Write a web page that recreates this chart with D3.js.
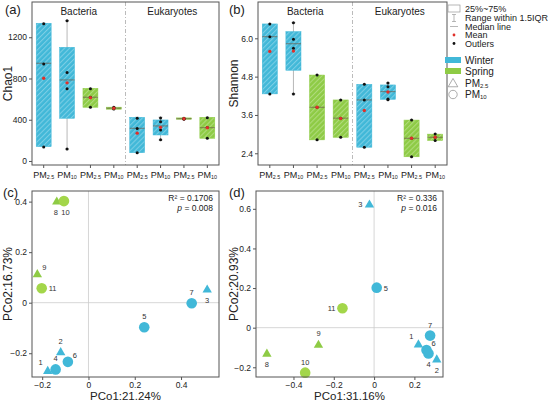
<!DOCTYPE html>
<html>
<head>
<meta charset="utf-8">
<script src="https://cdn.jsdelivr.net/npm/d3@7"></script>
<style>
  body { margin: 0; background: #fff; }
  svg { display: block; font-family: "Liberation Sans", Arial, sans-serif; }
</style>
</head>
<body>
<svg width="550" height="403"></svg>
<script>
// groups in panel (a)/(b), left to right
const sizes = ["2.5", "10", "2.5", "10", "2.5", "10", "2.5", "10"];
const seasons = ["Winter", "Winter", "Spring", "Spring", "Winter", "Winter", "Spring", "Spring"];
const kingdoms = ["Bacteria", "Eukaryotes"];

// Chao1 box stats
const chaoQ1 = [139, 414, 521, 502, 80, 252, 405, 220];
const chaoQ3 = [1336, 1103, 705, 522, 424, 398, 418, 424];
const chaoMed = [948, 786, 618, 512, 317, 340, 410, 323];
const chaoMean = [802, 758, 614, 512, 270, 326, 410, 322];
const chaoLo = [139, 116, 521, 502, 80, 204, 405, 220];
const chaoHi = [1336, 1361, 705, 522, 424, 424, 418, 424];
const chaoPts = [[1330, 940, 135], [1360, 857, 701, 116], [700, 618, 520], [520, 512, 505],
  [415, 315, 80], [418, 380, 300, 205], [415, 410, 405], [420, 325, 220]];

// Shannon box stats
const shanQ1 = [4.26, 5.0, 2.82, 2.90, 2.59, 4.09, 2.29, 2.80];
const shanQ3 = [6.45, 6.21, 4.85, 4.07, 4.56, 4.54, 3.44, 3.00];
const shanMed = [6.05, 5.83, 3.84, 3.50, 4.07, 4.33, 2.87, 2.90];
const shanMean = [5.59, 5.60, 3.84, 3.49, 3.74, 4.32, 2.87, 2.90];
const shanLo = [4.26, 4.26, 2.82, 2.90, 2.59, 4.08, 2.29, 2.80];
const shanHi = [6.45, 6.49, 4.85, 4.07, 4.56, 4.60, 3.44, 3.00];
const shanPts = [[6.45, 6.05, 4.26], [6.49, 5.97, 5.69, 4.26], [4.85, 3.84, 2.82], [4.07, 3.50, 2.90],
  [4.56, 4.07, 2.59], [4.60, 4.48, 4.10, 4.08], [3.44, 2.87, 2.29], [3.00, 2.90, 2.80]];

// PCoA samples 1..11
const sampleIds = ["1", "2", "3", "4", "5", "6", "7", "8", "9", "10", "11"];
const sampleSeason = ["Winter", "Winter", "Winter", "Winter", "Winter", "Winter", "Winter", "Spring", "Spring", "Spring", "Spring"];
const sampleSize = ["2.5", "2.5", "2.5", "10", "10", "10", "10", "2.5", "2.5", "10", "10"];
const pcoaCx = [-0.176, -0.12, 0.513, -0.142, 0.241, -0.089, 0.446, -0.137, -0.221, -0.106, -0.202];
const pcoaCy = [-0.268, -0.194, 0.054, -0.264, -0.097, -0.234, -0.002, 0.402, 0.115, 0.402, 0.057];
const pcoaDx = [0.220, 0.311, -0.023, 0.270, 0.013, 0.260, 0.278, -0.532, -0.276, -0.342, -0.157];
const pcoaDy = [-0.082, -0.158, 0.624, -0.130, 0.202, -0.113, -0.040, -0.129, -0.084, -0.227, 0.098];

const colors = { Winter: "#41b8d8", Spring: "#8ecb45" };
const stripe = { Winter: "#86d3e8", Spring: "#b7de86" };
const frameColor = "#555";

const svg = d3.select("svg");
const defs = svg.append("defs");

// 斜线填充
Object.keys(colors).forEach(s => {
  const p = defs.append("pattern")
    .attr("id", "hatch-" + s)
    .attr("patternUnits", "userSpaceOnUse")
    .attr("width", 3.6).attr("height", 3.6)
    .attr("patternTransform", "rotate(45)");
  p.append("rect").attr("width", 3.6).attr("height", 3.6).attr("fill", colors[s]);
  p.append("line").attr("x1", 0.6).attr("y1", 0).attr("x2", 0.6).attr("y2", 3.6)
    .attr("stroke", stripe[s]).attr("stroke-width", 0.9);
});

function styleAxis(g) {
  g.select(".domain").remove();
  g.selectAll(".tick line").attr("stroke", frameColor);
  g.selectAll(".tick text").attr("fill", "#222").attr("font-size", 8.5);
}

function pmLabel(sel, sub, size) {
  sel.append("tspan").text("PM");
  sel.append("tspan").attr("font-size", size * 0.6).attr("dy", 1.2).text(sub);
}

function boxPanel(o) {
  const g = svg.append("g");
  const x = d3.scaleBand().domain(d3.range(8)).range([o.x0, o.x1]);
  const y = d3.scaleLinear().domain(o.domain).range([o.y1, o.y0]);
  const bw = x.bandwidth() * 0.64;

  // divider
  g.append("line")
    .attr("x1", x(4)).attr("x2", x(4)).attr("y1", o.y0).attr("y2", o.y1)
    .attr("stroke", "#aaa").attr("stroke-width", 0.8).attr("stroke-dasharray", "4,2,1,2");

  kingdoms.forEach((k, i) => {
    g.append("text")
      .attr("x", (x(i * 4) + x(i * 4 + 3) + x.bandwidth()) / 2)
      .attr("y", o.y0 + 13)
      .attr("text-anchor", "middle").attr("font-size", 10).attr("fill", "#222")
      .text(k);
  });

  d3.range(8).forEach(i => {
    const cx = x(i) + x.bandwidth() / 2;
    // whisker
    g.append("line").attr("x1", cx).attr("x2", cx)
      .attr("y1", y(o.lo[i])).attr("y2", y(o.hi[i]))
      .attr("stroke", "#999").attr("stroke-width", 0.7);
    [o.lo[i], o.hi[i]].forEach(v => {
      g.append("line").attr("x1", cx - 2).attr("x2", cx + 2)
        .attr("y1", y(v)).attr("y2", y(v))
        .attr("stroke", "#999").attr("stroke-width", 0.7);
    });
    g.append("rect")
      .attr("x", cx - bw / 2).attr("width", bw)
      .attr("y", y(o.q3[i])).attr("height", Math.max(1, y(o.q1[i]) - y(o.q3[i])))
      .attr("fill", "url(#hatch-" + seasons[i] + ")")
      .attr("stroke", colors[seasons[i]]).attr("stroke-width", 0.5);
    g.append("line").attr("x1", cx - bw / 2).attr("x2", cx + bw / 2)
      .attr("y1", y(o.med[i])).attr("y2", y(o.med[i]))
      .attr("stroke", "#6b5a4a").attr("stroke-width", 0.7);
    o.pts[i].forEach(v => {
      g.append("circle").attr("cx", cx).attr("cy", y(v)).attr("r", 1.5).attr("fill", "#111");
    });
    g.append("circle").attr("cx", cx).attr("cy", y(o.mean[i])).attr("r", 1.7).attr("fill", "#e0302a");
  });

  // frame
  g.append("rect").attr("x", o.x0).attr("y", o.y0)
    .attr("width", o.x1 - o.x0).attr("height", o.y1 - o.y0)
    .attr("fill", "none").attr("stroke", frameColor).attr("stroke-width", 1);

  const ay = g.append("g").attr("transform", `translate(${o.x0},0)`)
    .call(d3.axisLeft(y).tickValues(o.ticks).tickSize(3).tickPadding(2).tickFormat(o.fmt));
  styleAxis(ay);

  const ax = g.append("g").attr("transform", `translate(0,${o.y1})`)
    .call(d3.axisBottom(x).tickSize(3).tickFormat(""));
  styleAxis(ax);
  d3.range(8).forEach(i => {
    const t = g.append("text")
      .attr("x", x(i) + x.bandwidth() / 2).attr("y", o.y1 + 13)
      .attr("text-anchor", "middle").attr("font-size", 9).attr("fill", "#222");
    pmLabel(t, sizes[i], 9);
  });

  g.append("text")
    .attr("transform", `translate(${o.titleX},${(o.y0 + o.y1) / 2}) rotate(-90)`)
    .attr("text-anchor", "middle").attr("font-size", 12).attr("fill", "#222")
    .text(o.title);
  g.append("text").attr("x", o.letterX).attr("y", o.y0 + 12)
    .attr("font-size", 13).attr("fill", "#222").text(o.letter);
}

function scatterPanel(o) {
  const g = svg.append("g");
  const x = d3.scaleLinear().domain(o.xDomain).range([o.x0, o.x1]);
  const y = d3.scaleLinear().domain(o.yDomain).range([o.y1, o.y0]);
  const fmt = d => d === 0 ? "0" : d3.format(".1f")(d);

  g.append("line").attr("x1", x(0)).attr("x2", x(0)).attr("y1", o.y0).attr("y2", o.y1)
    .attr("stroke", "#ccc").attr("stroke-width", 0.8);
  g.append("line").attr("x1", o.x0).attr("x2", o.x1).attr("y1", y(0)).attr("y2", y(0))
    .attr("stroke", "#ccc").attr("stroke-width", 0.8);

  const tri = d3.symbol(d3.symbolTriangle, 38);
  sampleIds.forEach((id, i) => {
    const px = x(o.xs[i]), py = y(o.ys[i]);
    const c = colors[sampleSeason[i]];
    if (sampleSize[i] === "2.5") {
      g.append("path").attr("d", tri()).attr("transform", `translate(${px},${py + 0.8})`).attr("fill", c);
    } else {
      g.append("circle").attr("cx", px).attr("cy", py).attr("r", 5.3)
        .attr("fill", sampleSeason[i] === "Spring" ? "#a3d64a" : c);
    }
    const pos = o.labels[i];
    let lx = px, ly = py, anchor = "middle";
    if (pos === "above") ly = py - 8;
    else if (pos === "below") ly = py + 14;
    else if (pos === "belowleft") { lx = px - 1; ly = py + 14; }
    else if (pos === "belowright") { lx = px + 1.5; ly = py + 14; }
    else if (pos === "left") { lx = px - 7; ly = py + 3; anchor = "end"; }
    else if (pos === "right") { lx = px + 7; ly = py + 3; anchor = "start"; }
    else if (pos === "upleft") { lx = px - 5; ly = py - 5; anchor = "end"; }
    else if (pos === "upright") { lx = px + 5; ly = py - 4; anchor = "start"; }
    g.append("text").attr("x", lx).attr("y", ly).attr("text-anchor", anchor)
      .attr("font-size", 7.5).attr("fill", "#333").text(id);
  });

  g.append("rect").attr("x", o.x0).attr("y", o.y0)
    .attr("width", o.x1 - o.x0).attr("height", o.y1 - o.y0)
    .attr("fill", "none").attr("stroke", frameColor).attr("stroke-width", 1);

  const ay = g.append("g").attr("transform", `translate(${o.x0},0)`)
    .call(d3.axisLeft(y).tickValues(o.yTicks).tickSize(3).tickPadding(2).tickFormat(fmt));
  styleAxis(ay);
  const ax = g.append("g").attr("transform", `translate(0,${o.y1})`)
    .call(d3.axisBottom(x).tickValues(o.xTicks).tickSize(3).tickPadding(2).tickFormat(fmt));
  styleAxis(ax);

  g.append("text").attr("x", (o.x0 + o.x1) / 2).attr("y", o.y1 + 22.5)
    .attr("text-anchor", "middle").attr("font-size", 11.5).attr("fill", "#222").text(o.xTitle);
  g.append("text")
    .attr("transform", `translate(${o.titleX},${(o.y0 + o.y1) / 2}) rotate(-90)`)
    .attr("text-anchor", "middle").attr("font-size", 12).attr("fill", "#222").text(o.yTitle);

  g.append("text").attr("x", o.x1 - 6).attr("y", o.y0 + 10)
    .attr("text-anchor", "end").attr("font-size", 8.5).attr("fill", "#222").text("R² = " + o.r2);
  const pt = g.append("text").attr("x", o.x1 - 6).attr("y", o.y0 + 19.5)
    .attr("text-anchor", "end").attr("font-size", 8.5).attr("fill", "#222");
  pt.append("tspan").attr("font-style", "italic").text("p");
  pt.append("tspan").text(" = " + o.p);

  g.append("text").attr("x", o.letterX).attr("y", o.y0 + 6)
    .attr("font-size", 13).attr("fill", "#222").text(o.letter);
}

boxPanel({
  x0: 32, x1: 219, y0: 2, y1: 165, domain: [-39, 1542], ticks: [0, 400, 800, 1200],
  fmt: d3.format("d"), q1: chaoQ1, q3: chaoQ3, med: chaoMed, mean: chaoMean,
  lo: chaoLo, hi: chaoHi, pts: chaoPts, title: "Chao1", titleX: 12, letter: "(a)", letterX: 5
});
boxPanel({
  x0: 258, x1: 447, y0: 2, y1: 165, domain: [2.033, 7.137], ticks: [2.4, 3.6, 4.8, 6.0],
  fmt: d3.format(".1f"), q1: shanQ1, q3: shanQ3, med: shanMed, mean: shanMean,
  lo: shanLo, hi: shanHi, pts: shanPts, title: "Shannon", titleX: 238, letter: "(b)", letterX: 229
});

scatterPanel({
  x0: 32, x1: 219, y0: 191, y1: 377, xDomain: [-0.244, 0.564], yDomain: [-0.294, 0.442],
  xTicks: [-0.2, 0, 0.2, 0.4], yTicks: [-0.2, 0, 0.2, 0.4], xs: pcoaCx, ys: pcoaCy,
  labels: ["upleft", "above", "below", "above", "above", "upright", "above", "belowleft", "upright", "belowright", "right"],
  xTitle: "PCo1:21.24%", yTitle: "PCo2:16.73%", titleX: 12, r2: "0.1706", p: "0.008",
  letter: "(c)", letterX: 3
});
scatterPanel({
  x0: 256, x1: 443, y0: 191, y1: 377, xDomain: [-0.586, 0.342], yDomain: [-0.249, 0.690],
  xTicks: [-0.4, -0.2, 0, 0.2], yTicks: [-0.2, 0, 0.2, 0.4, 0.6], xs: pcoaDx, ys: pcoaDy,
  labels: ["upleft", "below", "left", "below", "right", "upright", "above", "below", "above", "above", "left"],
  xTitle: "PCo1:31.16%", yTitle: "PCo2:20.93%", titleX: 238, r2: "0.336", p: "0.016",
  letter: "(d)", letterX: 229
});

// legend
const lg = svg.append("g").attr("font-size", 9).attr("fill", "#222");
const lx = 454, tx = 465;
lg.append("rect").attr("x", lx - 6).attr("y", 5).attr("width", 12).attr("height", 7)
  .attr("fill", "none").attr("stroke", "#999").attr("stroke-width", 0.7);
lg.append("text").attr("x", tx).attr("y", 12).text("25%~75%");
lg.append("path").attr("d", `M${lx - 2},14.5H${lx + 2}M${lx},14.5V21.5M${lx - 2},21.5H${lx + 2}`)
  .attr("stroke", "#999").attr("stroke-width", 0.7).attr("fill", "none");
lg.append("text").attr("x", tx).attr("y", 21).text("Range within 1.5IQR");
lg.append("line").attr("x1", lx - 4).attr("x2", lx + 4).attr("y1", 26.5).attr("y2", 26.5)
  .attr("stroke", "#999").attr("stroke-width", 0.7);
lg.append("text").attr("x", tx).attr("y", 29.5).text("Median line");
lg.append("circle").attr("cx", lx).attr("cy", 35).attr("r", 1.4).attr("fill", "#e0302a");
lg.append("text").attr("x", tx).attr("y", 38).text("Mean");
lg.append("circle").attr("cx", lx).attr("cy", 43.5).attr("r", 1.4).attr("fill", "#111");
lg.append("text").attr("x", tx).attr("y", 46.5).text("Outlers");

["Winter", "Spring"].forEach((s, i) => {
  const yy = 60 + i * 11;
  lg.append("rect").attr("x", 445).attr("y", yy - 3).attr("width", 16).attr("height", 6)
    .attr("fill", colors[s]);
  lg.append("text").attr("x", tx).attr("y", yy + 3.5).attr("font-size", 10).text(s);
});
lg.append("path").attr("d", d3.symbol(d3.symbolTriangle, 40)())
  .attr("transform", `translate(${lx - 1},84)`)
  .attr("fill", "none").attr("stroke", "#888").attr("stroke-width", 0.7);
const t25 = lg.append("text").attr("x", tx).attr("y", 87).attr("font-size", 10);
pmLabel(t25, "2.5", 10);
lg.append("circle").attr("cx", lx - 1).attr("cy", 94.5).attr("r", 4.2)
  .attr("fill", "none").attr("stroke", "#888").attr("stroke-width", 0.7);
const t10 = lg.append("text").attr("x", tx).attr("y", 98).attr("font-size", 10);
pmLabel(t10, "10", 10);
</script>
</body>
</html>
